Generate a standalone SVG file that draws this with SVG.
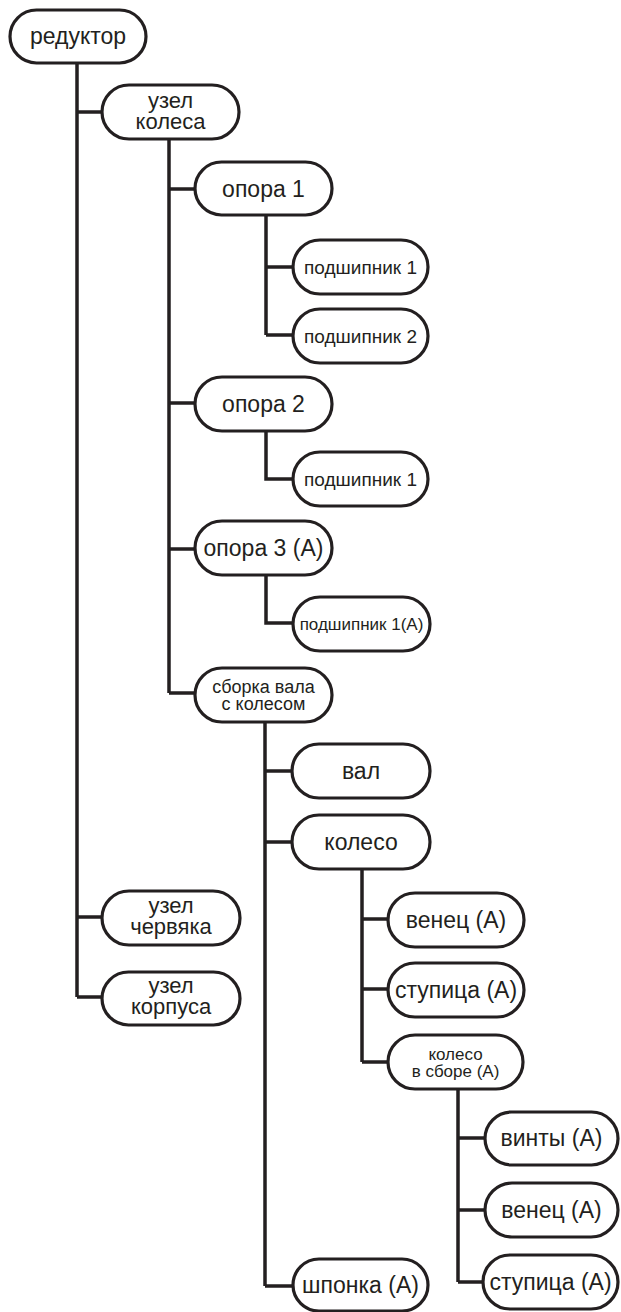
<svg xmlns="http://www.w3.org/2000/svg" width="621" height="1312" viewBox="0 0 621 1312">
  <style>
    .box { fill: #ffffff; stroke: #231f20; stroke-width: 3.2; }
    .link { fill: none; stroke: #231f20; stroke-width: 3.5; stroke-linejoin: miter; stroke-linecap: butt; }
    text { font-family: "Liberation Sans", Arial, sans-serif; fill: #231f20; text-anchor: middle; }
    .t23 { font-size: 23px; }
    .t22 { font-size: 22px; }
    .t19 { font-size: 19px; }
    .t18 { font-size: 18px; }
    .t17 { font-size: 17px; }
  </style>

  <!-- tree connectors: trunk lines and branches to each child -->
  <g id="connectors">
    <path class="link" d="M77 63 V997 M77 112 H102 M77 917 H102 M77 997 H102"/>
    <path class="link" d="M169 139 V693 M169 189 H195 M169 403 H195 M169 549 H195 M169 693 H195"/>
    <path class="link" d="M266 215 V335 M266 267 H293 M266 335 H293"/>
    <path class="link" d="M266 431 V479 H293"/>
    <path class="link" d="M266 575 V623 H293"/>
    <path class="link" d="M265 722 V1286 M265 771 H292 M265 842 H292 M265 1286 H293"/>
    <path class="link" d="M362 869 V1062 M362 919 H388 M362 989 H388 M362 1062 H388"/>
    <path class="link" d="M458 1089 V1282 M458 1138 H485 M458 1210 H485 M458 1282 H483"/>
  </g>

  <g id="n-reduktor">
    <rect class="box" x="10" y="10" width="136" height="53" rx="26.5"/>
    <text class="t23" x="78" y="44">редуктор</text>
  </g>
  <g id="n-uzel-kolesa">
    <rect class="box" x="102" y="85" width="137" height="54" rx="27"/>
    <text class="t22" x="170.5" y="108">узел</text>
    <text class="t22" x="170.5" y="129">колеса</text>
  </g>
  <g id="n-opora1">
    <rect class="box" x="195" y="162" width="137" height="53" rx="26.5"/>
    <text class="t23" x="263.5" y="197">опора 1</text>
  </g>
  <g id="n-podsh1">
    <rect class="box" x="293" y="240" width="135" height="54" rx="27"/>
    <text class="t19" x="360.5" y="274">подшипник 1</text>
  </g>
  <g id="n-podsh2">
    <rect class="box" x="293" y="309" width="135" height="54" rx="27"/>
    <text class="t19" x="360.5" y="343">подшипник 2</text>
  </g>
  <g id="n-opora2">
    <rect class="box" x="195" y="377" width="137" height="54" rx="27"/>
    <text class="t23" x="263.5" y="412">опора 2</text>
  </g>
  <g id="n-podsh1-b">
    <rect class="box" x="293" y="452" width="135" height="54" rx="27"/>
    <text class="t19" x="360.5" y="486">подшипник 1</text>
  </g>
  <g id="n-opora3">
    <rect class="box" x="195" y="521" width="137" height="54" rx="27"/>
    <text class="t23" x="263.5" y="556">опора 3 (А)</text>
  </g>
  <g id="n-podsh1a">
    <rect class="box" x="293" y="597" width="137" height="54" rx="27"/>
    <text class="t17" x="361.5" y="630">подшипник 1(А)</text>
  </g>
  <g id="n-sborka-vala">
    <rect class="box" x="195" y="668" width="137" height="54" rx="27"/>
    <text class="t18" x="263.5" y="693">сборка вала</text>
    <text class="t18" x="263.5" y="710">с колесом</text>
  </g>
  <g id="n-val">
    <rect class="box" x="292" y="744" width="138" height="54" rx="27"/>
    <text class="t23" x="361" y="779">вал</text>
  </g>
  <g id="n-koleso">
    <rect class="box" x="292" y="815" width="138" height="54" rx="27"/>
    <text class="t23" x="361" y="850">колесо</text>
  </g>
  <g id="n-uzel-chervyaka">
    <rect class="box" x="102" y="891" width="138" height="54" rx="27"/>
    <text class="t22" x="171" y="913">узел</text>
    <text class="t22" x="171" y="934">червяка</text>
  </g>
  <g id="n-uzel-korpusa">
    <rect class="box" x="102" y="972" width="138" height="53" rx="26.5"/>
    <text class="t22" x="171" y="993">узел</text>
    <text class="t22" x="171" y="1014">корпуса</text>
  </g>
  <g id="n-venets">
    <rect class="box" x="388" y="893" width="136" height="54" rx="27"/>
    <text class="t23" x="456" y="928">венец (А)</text>
  </g>
  <g id="n-stupitsa">
    <rect class="box" x="388" y="963" width="136" height="54" rx="27"/>
    <text class="t23" x="456" y="998">ступица (А)</text>
  </g>
  <g id="n-koleso-v-sbore">
    <rect class="box" x="388" y="1035" width="135" height="54" rx="27"/>
    <text class="t17" x="455.5" y="1060">колесо</text>
    <text class="t17" x="455.5" y="1077">в сборе (А)</text>
  </g>
  <g id="n-vinty">
    <rect class="box" x="485" y="1112" width="133" height="53" rx="26.5"/>
    <text class="t23" x="551.5" y="1146">винты (А)</text>
  </g>
  <g id="n-venets-b">
    <rect class="box" x="485" y="1183" width="133" height="54" rx="27"/>
    <text class="t23" x="551.5" y="1218">венец (А)</text>
  </g>
  <g id="n-stupitsa-b">
    <rect class="box" x="483" y="1255" width="135" height="54" rx="27"/>
    <text class="t23" x="550.5" y="1290">ступица (А)</text>
  </g>
  <g id="n-shponka">
    <rect class="box" x="293" y="1259" width="135" height="52" rx="26"/>
    <text class="t23" x="360.5" y="1293">шпонка (А)</text>
  </g>
</svg>
